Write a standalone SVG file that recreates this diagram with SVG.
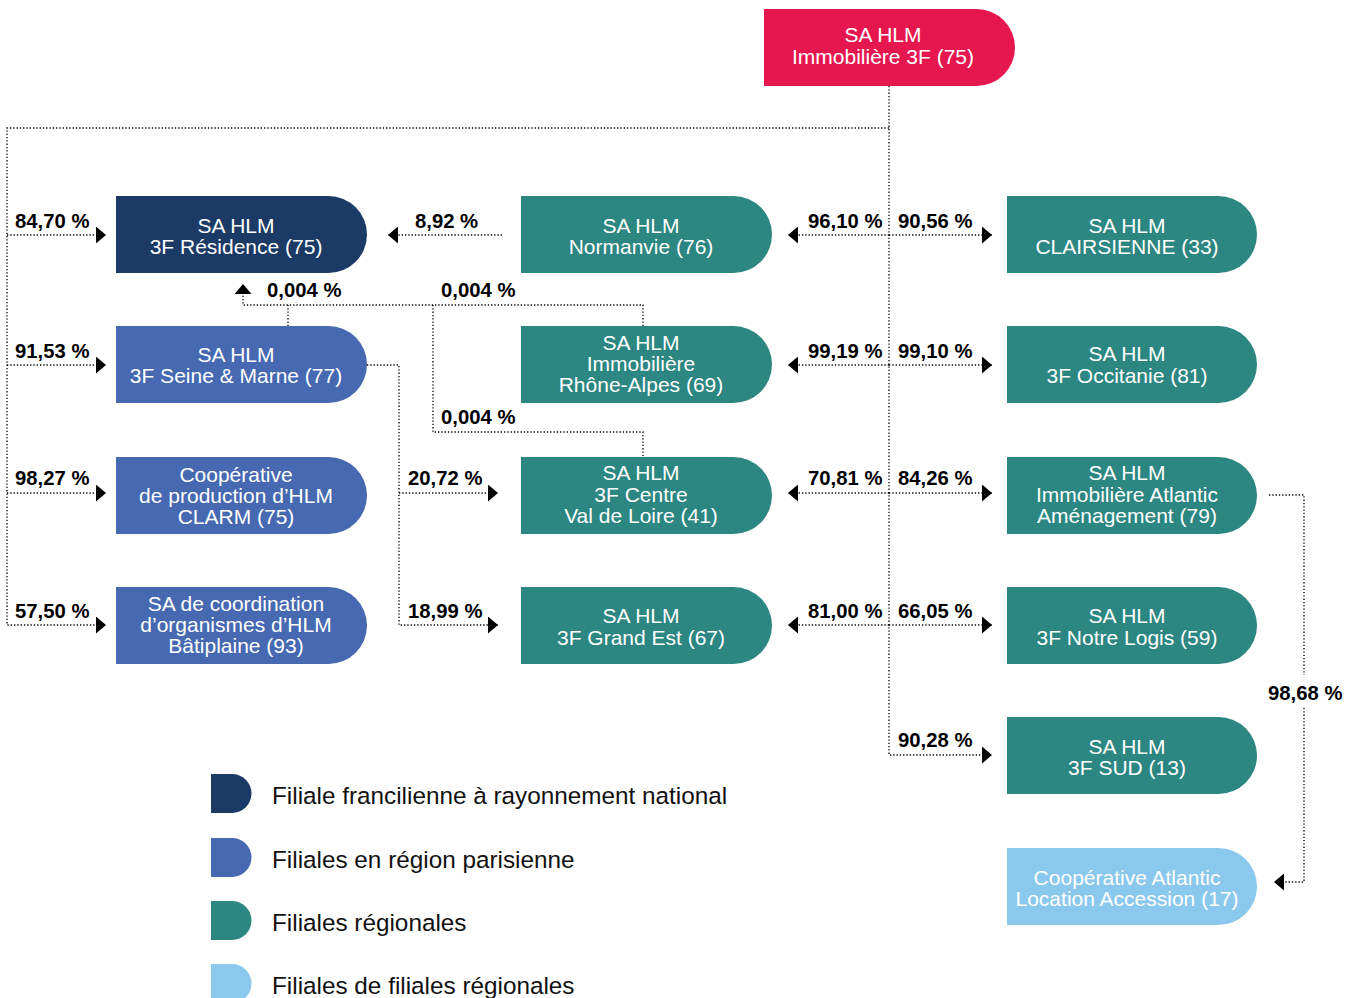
<svg xmlns="http://www.w3.org/2000/svg" width="1359" height="998" viewBox="0 0 1359 998">
<style>
.navy{fill:#1B3A66}.blue{fill:#4669B1}.teal{fill:#2C8681}.light{fill:#8BC8EE}.red{fill:#E6174F}
.nt{font-family:"Liberation Sans",Arial,sans-serif;font-size:21px;fill:#fff;text-anchor:middle}
.pct{font-family:"Liberation Sans",Arial,sans-serif;font-size:20.3px;font-weight:bold;fill:#000}
.leg{font-family:"Liberation Sans",Arial,sans-serif;font-size:24.3px;fill:#111}
.dot{fill:none;stroke:#000;stroke-width:1.3;stroke-dasharray:1.3 2}
</style>
<defs>
<marker id="arr" viewBox="0 0 10 17" refX="10" refY="8.5" markerWidth="10" markerHeight="17" markerUnits="userSpaceOnUse" orient="auto">
<path d="M0,0 L10,8.5 L0,17 Z" fill="#000"/>
</marker>
</defs>
<rect width="1359" height="998" fill="#fff"/>
<g id="connectors">
<path class="dot" d="M889,86 V755 H992" marker-end="url(#arr)"/>
<path class="dot" d="M889,128 H7 V625 H106" marker-end="url(#arr)"/>
<path class="dot" d="M7,235 H106" marker-end="url(#arr)"/>
<path class="dot" d="M7,365 H106" marker-end="url(#arr)"/>
<path class="dot" d="M7,493 H106" marker-end="url(#arr)"/>
<path class="dot" d="M889,235 H992" marker-end="url(#arr)"/>
<path class="dot" d="M889,365 H992" marker-end="url(#arr)"/>
<path class="dot" d="M889,493 H992" marker-end="url(#arr)"/>
<path class="dot" d="M889,625 H992" marker-end="url(#arr)"/>
<path class="dot" d="M889,235 H788" marker-end="url(#arr)"/>
<path class="dot" d="M889,365 H788" marker-end="url(#arr)"/>
<path class="dot" d="M889,493 H788" marker-end="url(#arr)"/>
<path class="dot" d="M889,625 H788" marker-end="url(#arr)"/>
<path class="dot" d="M502,235 H388" marker-end="url(#arr)"/>
<path class="dot" d="M288,326 V305"/>
<path class="dot" d="M643,326 V305 H243 V284" marker-end="url(#arr)"/>
<path class="dot" d="M433,305 V432 H643 V457"/>
<path class="dot" d="M367,365 H399 V625 H498" marker-end="url(#arr)"/>
<path class="dot" d="M399,493 H498" marker-end="url(#arr)"/>
<path class="dot" d="M1269,495 H1304 V675"/>
<path class="dot" d="M1304,708 V882 H1274" marker-end="url(#arr)"/>
<g class="pct">
<text x="15" y="228">84,70 %</text>
<text x="15" y="358">91,53 %</text>
<text x="15" y="485">98,27 %</text>
<text x="15" y="618">57,50 %</text>
<text x="415" y="228">8,92 %</text>
<text x="267" y="297">0,004 %</text>
<text x="441" y="297">0,004 %</text>
<text x="441" y="424">0,004 %</text>
<text x="408" y="485">20,72 %</text>
<text x="408" y="618">18,99 %</text>
<text x="808" y="228">96,10 %</text>
<text x="898" y="228">90,56 %</text>
<text x="808" y="358">99,19 %</text>
<text x="898" y="358">99,10 %</text>
<text x="808" y="485">70,81 %</text>
<text x="898" y="485">84,26 %</text>
<text x="808" y="618">81,00 %</text>
<text x="898" y="618">66,05 %</text>
<text x="898" y="747">90,28 %</text>
<text x="1268" y="700">98,68 %</text>
</g>
</g>
<g id="n-top"><path class="red" d="M764,9 H976.5 A38.5,38.5 0 0 1 976.5,86 H764 Z"/><text class="nt" x="883" y="42">SA HLM</text><text class="nt" x="883" y="64">Immobilière 3F (75)</text></g>
<g id="n-residence"><path class="navy" d="M116,196 H328.5 A38.5,38.5 0 0 1 328.5,273 H116 Z"/><text class="nt" x="236" y="233">SA HLM</text><text class="nt" x="236" y="254">3F Résidence (75)</text></g>
<g id="n-seine"><path class="blue" d="M116,326 H328.5 A38.5,38.5 0 0 1 328.5,403 H116 Z"/><text class="nt" x="236" y="362">SA HLM</text><text class="nt" x="236" y="383">3F Seine &amp; Marne (77)</text></g>
<g id="n-clarm"><path class="blue" d="M116,457 H328.5 A38.5,38.5 0 0 1 328.5,534 H116 Z"/><text class="nt" x="236" y="482">Coopérative</text><text class="nt" x="236" y="503">de production d’HLM</text><text class="nt" x="236" y="524">CLARM (75)</text></g>
<g id="n-batiplaine"><path class="blue" d="M116,587 H328.5 A38.5,38.5 0 0 1 328.5,664 H116 Z"/><text class="nt" x="236" y="611">SA de coordination</text><text class="nt" x="236" y="632">d’organismes d’HLM</text><text class="nt" x="236" y="653">Bâtiplaine (93)</text></g>
<g id="n-normanvie"><path class="teal" d="M521,196 H733.5 A38.5,38.5 0 0 1 733.5,273 H521 Z"/><text class="nt" x="641" y="233">SA HLM</text><text class="nt" x="641" y="254">Normanvie (76)</text></g>
<g id="n-rhone"><path class="teal" d="M521,326 H733.5 A38.5,38.5 0 0 1 733.5,403 H521 Z"/><text class="nt" x="641" y="350">SA HLM</text><text class="nt" x="641" y="371">Immobilière</text><text class="nt" x="641" y="392">Rhône-Alpes (69)</text></g>
<g id="n-centre"><path class="teal" d="M521,457 H733.5 A38.5,38.5 0 0 1 733.5,534 H521 Z"/><text class="nt" x="641" y="480">SA HLM</text><text class="nt" x="641" y="502">3F Centre</text><text class="nt" x="641" y="523">Val de Loire (41)</text></g>
<g id="n-grandest"><path class="teal" d="M521,587 H733.5 A38.5,38.5 0 0 1 733.5,664 H521 Z"/><text class="nt" x="641" y="623">SA HLM</text><text class="nt" x="641" y="645">3F Grand Est (67)</text></g>
<g id="n-clairsienne"><path class="teal" d="M1007,196 H1218.5 A38.5,38.5 0 0 1 1218.5,273 H1007 Z"/><text class="nt" x="1127" y="233">SA HLM</text><text class="nt" x="1127" y="254">CLAIRSIENNE (33)</text></g>
<g id="n-occitanie"><path class="teal" d="M1007,326 H1218.5 A38.5,38.5 0 0 1 1218.5,403 H1007 Z"/><text class="nt" x="1127" y="361">SA HLM</text><text class="nt" x="1127" y="383">3F Occitanie (81)</text></g>
<g id="n-atlantic"><path class="teal" d="M1007,457 H1218.5 A38.5,38.5 0 0 1 1218.5,534 H1007 Z"/><text class="nt" x="1127" y="480">SA HLM</text><text class="nt" x="1127" y="502">Immobilière Atlantic</text><text class="nt" x="1127" y="523">Aménagement (79)</text></g>
<g id="n-notrelogis"><path class="teal" d="M1007,587 H1218.5 A38.5,38.5 0 0 1 1218.5,664 H1007 Z"/><text class="nt" x="1127" y="623">SA HLM</text><text class="nt" x="1127" y="645">3F Notre Logis (59)</text></g>
<g id="n-sud"><path class="teal" d="M1007,717 H1218.5 A38.5,38.5 0 0 1 1218.5,794 H1007 Z"/><text class="nt" x="1127" y="754">SA HLM</text><text class="nt" x="1127" y="775">3F SUD (13)</text></g>
<g id="n-coop-atlantic"><path class="light" d="M1007,848 H1218.5 A38.5,38.5 0 0 1 1218.5,925 H1007 Z"/><text class="nt" x="1127" y="885">Coopérative Atlantic</text><text class="nt" x="1127" y="906">Location Accession (17)</text></g>
<g id="legend">
<path class="navy" d="M211,774 H232 A19.5,19.5 0 0 1 232,813 H211 Z"/><text class="leg" x="272" y="804">Filiale francilienne à rayonnement national</text>
<path class="blue" d="M211,838 H232 A19.5,19.5 0 0 1 232,877 H211 Z"/><text class="leg" x="272" y="868">Filiales en région parisienne</text>
<path class="teal" d="M211,901 H232 A19.5,19.5 0 0 1 232,940 H211 Z"/><text class="leg" x="272" y="931">Filiales régionales</text>
<path class="light" d="M211,964 H232 A19.5,19.5 0 0 1 232,1003 H211 Z"/><text class="leg" x="272" y="994">Filiales de filiales régionales</text>
</g>
</svg>
